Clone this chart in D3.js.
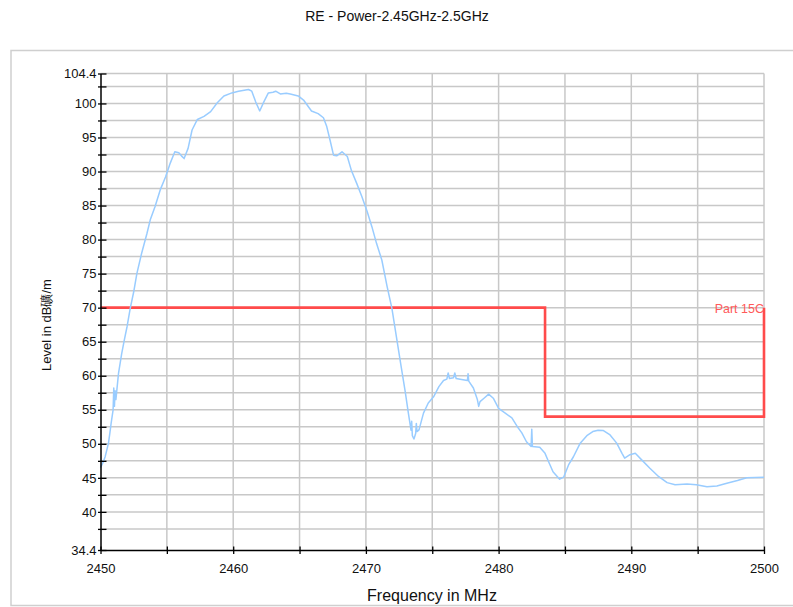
<!DOCTYPE html>
<html><head><meta charset="utf-8">
<script src="https://cdn.jsdelivr.net/npm/d3@7"></script>
<style>
body{margin:0;background:#fff;}
svg{display:block;font-family:Arial,"Liberation Sans",sans-serif;}
</style></head>
<body><svg id="c" width="793" height="607"></svg>
<script>
const title = "RE - Power-2.45GHz-2.5GHz";
const xLabel = "Frequency in MHz";
const yLabel = "Level in dB礦/m";
const limitLabel = "Part 15C";

const freq = [2450.0,2450.2,2450.35,2450.5,2450.6,2450.7,2450.8,2450.95,2451.0,2451.05,2451.1,2451.16,2451.36,2451.6,2451.8,2452.0,2452.24,2452.5,2452.74,2453.1,2453.5,2453.75,2454.1,2454.5,2454.9,2455.25,2455.6,2455.9,2456.1,2456.3,2456.6,2456.9,2457.3,2457.8,2458.3,2458.8,2459.3,2459.9,2460.4,2461.15,2461.4,2461.7,2462.0,2462.3,2462.65,2463.0,2463.2,2463.55,2464.0,2464.3,2464.9,2465.3,2465.9,2466.4,2466.8,2467.05,2467.3,2467.56,2467.8,2468.2,2468.6,2468.9,2469.3,2469.7,2470.1,2470.45,2470.8,2471.2,2471.6,2471.96,2472.3,2472.66,2472.96,2473.2,2473.4,2473.45,2473.5,2473.62,2473.75,2473.8,2473.85,2474.0,2474.34,2474.7,2475.1,2475.5,2475.85,2476.1,2476.2,2476.3,2476.6,2476.7,2476.8,2477.1,2477.65,2477.7,2477.75,2478.1,2478.4,2478.5,2478.6,2478.9,2479.25,2479.6,2480.0,2480.5,2481.0,2481.4,2481.75,2482.1,2482.45,2482.5,2482.55,2483.1,2483.5,2483.76,2484.1,2484.6,2484.9,2485.27,2485.64,2486.15,2486.65,2487.1,2487.5,2487.9,2488.4,2488.9,2489.3,2489.5,2489.9,2490.3,2490.8,2491.4,2492.05,2492.7,2493.3,2494.2,2494.9,2495.7,2496.45,2497.2,2498.0,2498.7,2500.0];
const level = [46.5,47.3,48.1,49.3,50.1,51.5,53.0,55.0,58.2,55.5,57.8,56.5,60.4,63.3,65.3,67.2,69.9,72.3,75.0,78.0,80.9,82.9,84.8,87.3,89.2,91.2,92.9,92.75,92.3,91.9,93.4,96.1,97.65,98.1,98.8,100.1,101.1,101.55,101.8,102.05,101.8,100.2,98.9,100.2,101.55,101.65,101.8,101.4,101.5,101.4,101.1,100.5,98.9,98.5,97.9,96.6,94.6,92.4,92.3,92.9,92.2,90.2,88.3,86.3,84.1,81.9,79.45,77.0,73.1,69.9,65.7,61.3,57.7,54.5,52.0,53.3,51.2,50.7,51.5,53.0,51.8,52.05,54.5,56.0,56.9,58.4,59.3,59.5,60.4,59.6,59.7,60.4,59.6,59.5,59.3,60.3,59.2,58.2,56.5,55.5,56.2,56.7,57.3,56.7,55.2,54.5,53.8,52.55,51.6,50.3,49.6,52.15,49.6,49.5,48.6,47.4,45.9,44.8,45.1,46.9,48.1,50.1,51.2,51.8,52.0,51.95,51.3,50.1,48.6,47.9,48.4,48.6,47.6,46.4,45.2,44.3,44.0,44.1,44.0,43.7,43.8,44.2,44.6,45.0,45.1];

const limitFreq = [2450, 2483.5, 2483.5, 2500, 2500];
const limitLevel = [70, 70, 54, 54, 70];

const xTicks = [2450,2455,2460,2465,2470,2475,2480,2485,2490,2495,2500];
const xTickLabels = [2450,2460,2470,2480,2490,2500];
const yTicks = [34.4,37.5,40,42.5,45,47.5,50,52.5,55,57.5,60,62.5,65,67.5,70,72.5,75,77.5,80,82.5,85,87.5,90,92.5,95,97.5,100,102.5,104.4];
const yTickLabels = [34.4,40,45,50,55,60,65,70,75,80,85,90,95,100,104.4];

const svg = d3.select("#c");
const W = 793, H = 607;
const x = d3.scaleLinear().domain([2450,2500]).range([100.5,764]);
const y = d3.scaleLinear().domain([34.4,104.4]).range([550,73.5]);

// outer frame
svg.append("rect").attr("x",11).attr("y",50.5).attr("width",800).attr("height",555)
  .attr("fill","none").attr("stroke","#cfcfcf").attr("stroke-width",1.5);

// title
svg.append("text").attr("x",397).attr("y",21).attr("text-anchor","middle")
  .attr("font-size",14).attr("fill","#111").text(title);

// grid
const g = svg.append("g");
g.selectAll("line.hg").data(yTicks.filter(v=>v!==34.4)).enter().append("line")
  .attr("x1",x(2450)).attr("x2",x(2500)).attr("y1",d=>y(d)).attr("y2",d=>y(d))
  .attr("stroke","#c8c8c8").attr("stroke-width",1.5);
g.selectAll("line.vg").data(xTicks.filter(v=>v!==2450)).enter().append("line")
  .attr("x1",d=>x(d)).attr("x2",d=>x(d)).attr("y1",y(104.4)).attr("y2",y(34.4))
  .attr("stroke","#c8c8c8").attr("stroke-width",1.5);

// limit line
const limitData = limitFreq.map((f,i)=>[f,limitLevel[i]]);
svg.append("path").datum(limitData)
  .attr("d", d3.line().x(d=>x(d[0])).y(d=>y(d[1])))
  .attr("fill","none").attr("stroke","#ff4b4b").attr("stroke-width",2.6);
svg.append("text").attr("x",x(2500)).attr("y",y(70)+5.5).attr("text-anchor","end")
  .attr("font-size",12.5).attr("fill","#ff5a5a").text(limitLabel);

// trace
const trace = freq.map((f,i)=>[f,level[i]]);
svg.append("path").datum(trace)
  .attr("d", d3.line().x(d=>x(d[0])).y(d=>y(d[1])))
  .attr("fill","none").attr("stroke","#99ccff").attr("stroke-width",1.5)
  .attr("stroke-linejoin","round");

// axes
const xa = svg.append("g").attr("transform",`translate(0,${y(34.4)})`)
  .call(d3.axisBottom(x).tickValues(xTicks).tickSizeOuter(0).tickSizeInner(4).tickPadding(10)
    .tickFormat(d=>xTickLabels.includes(d)?d3.format("d")(d):""));
xa.selectAll(".tick line").attr("y1",-3.5).attr("stroke","#000").attr("stroke-width",1.3);
xa.select(".domain").attr("stroke","#000").attr("stroke-width",1.5);
xa.selectAll("text").attr("font-size",13).attr("fill","#111").attr("font-family",null);

const ya = svg.append("g").attr("transform",`translate(${x(2450)},0)`)
  .call(d3.axisLeft(y).tickValues(yTicks).tickSizeOuter(0).tickSizeInner(-6).tickPadding(4)
    .tickFormat(d=>yTickLabels.includes(d)?String(d):""));
ya.selectAll(".tick line").attr("x1",-2.5).attr("x2",6).attr("stroke","#000").attr("stroke-width",1.3);
ya.select(".domain").attr("stroke","#000").attr("stroke-width",1.5);
ya.selectAll("text").attr("font-size",13).attr("fill","#111").attr("font-family",null);

// axis labels
svg.append("text").attr("x",432).attr("y",601).attr("text-anchor","middle")
  .attr("font-size",16).attr("fill","#111").text(xLabel);
svg.append("text").attr("transform","translate(51,325) rotate(-90)").attr("text-anchor","middle")
  .attr("font-size",13).attr("fill","#111").text(yLabel);
</script></body></html>
